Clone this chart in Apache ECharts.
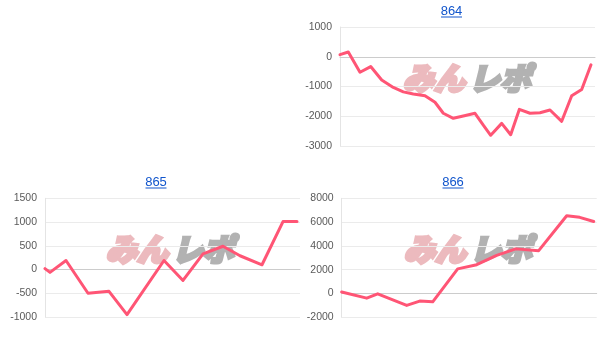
<!DOCTYPE html>
<html><head><meta charset="utf-8">
<script src="https://cdn.jsdelivr.net/npm/echarts@6/dist/echarts.min.js"></script>
<style>html,body{margin:0;padding:0;background:#fff}#c{width:604px;height:341px}</style>
</head><body><div id="c"></div>
<script>
const titles = ['864','865','866'];

const x864 = [0,0.83,2,3.07,4.17,5.33,6.33,7.33,8.5,9.5,10.33,11.33,12.33,13.5,14.33,15.07,16.17,17.07,17.93,19,20,21,22.17,23.17,24.17,25.1];
const v864 = [70,160,-520,-330,-780,-1030,-1180,-1250,-1310,-1530,-1900,-2070,-1990,-1900,-2300,-2640,-2240,-2620,-1770,-1900,-1880,-1790,-2170,-1310,-1100,-270];

const x865 = [0,0.5,2.1,4.3,6.4,8.2,11.9,13.8,15.8,17.8,19.5,21.7,23.8,25.2];
const v865 = [20,-60,190,-500,-460,-950,190,-230,330,490,290,100,1010,1010];

const x866 = [0,2.5,3.6,6.5,7.8,9.1,11.6,13.5,15.5,17.4,19.7,22.5,23.8,25.2];
const v866 = [130,-390,-30,-1000,-640,-700,2070,2420,3200,3750,3600,6530,6400,6050];

const yTicks = [
  {min:-3000, max:1000, interval:1000},
  {min:-1000, max:1500, interval:500},
  {min:-2000, max:8000, interval:2000}
];

const LINE = '#ff5575';
const pair = (xs, vs) => xs.map((x, i) => [x, vs[i]]);
const seriesData = [pair(x864, v864), pair(x865, v865), pair(x866, v866)];

const grids = [
  {left:340, right:9, top:27, height:119},
  {left:45, right:304, top:198.3, height:118.7},
  {left:341.7, right:7.3, top:198.3, height:119}
];
const titlePos = [{cx:451.5, top:5}, {cx:156, top:176}, {cx:453, top:176}];
const wm = [{cx:465, cy:78}, {cx:168, cy:249}, {cx:466, cy:249}];

const chart = echarts.init(document.getElementById('c'), null, {renderer:'canvas'});

const graphic = [];
titlePos.forEach((t) => {
  graphic.push({type:'rect', shape:{x:t.cx-10.5, y:t.top+11.5, width:21, height:1}, style:{fill:'#1155cc'}, silent:true});
});
const PINK = 'rgb(236,186,190)', GRAY = 'rgb(178,178,178)';
wm.forEach((w) => {
  graphic.push({type:'text', x:w.cx, y:w.cy, z:0, style:{text:'みん', align:'right', verticalAlign:'middle',
    fontStyle:'italic', fontWeight:900, fontSize:31, fontFamily:'Noto Sans CJK JP',
    fill:PINK, stroke:PINK, lineWidth:3.5, lineJoin:'round'}, silent:true});
  graphic.push({type:'text', x:w.cx+4, y:w.cy, z:0, style:{text:'レポ', align:'left', verticalAlign:'middle',
    fontStyle:'italic', fontWeight:900, fontSize:31, fontFamily:'Noto Sans CJK JP',
    fill:GRAY, stroke:GRAY, lineWidth:3, lineJoin:'round'}, silent:true});
});

const option = {
  animation:false,
  backgroundColor:'#fff',
  title: titles.map((t, i) => ({
    text:t, left:titlePos[i].cx, top:titlePos[i].top, textAlign:'center', padding:0,
    textStyle:{fontFamily:'Liberation Sans, Arial', fontSize:13, fontWeight:'normal', color:'#1155cc'}
  })),
  grid: grids,
  xAxis: grids.map((g, i) => ({
    type:'value', gridIndex:i, min:0, max:25.5,
    axisLine:{show:true, onZero:true, lineStyle:{color:'#cccccc', width:1}},
    axisTick:{show:false}, axisLabel:{show:false}, splitLine:{show:false}
  })),
  yAxis: grids.map((g, i) => ({
    type:'value', gridIndex:i, min:yTicks[i].min, max:yTicks[i].max, interval:yTicks[i].interval,
    axisLine:{show:true, lineStyle:{color:'#e4e4e4'}},
    axisTick:{show:false},
    axisLabel:{color:'#5a5a5a', fontFamily:'Liberation Sans, Arial', fontSize:10.5, margin:8,
      formatter:(v) => String(v)},
    splitLine:{show:true, lineStyle:{color:'#ebebeb', width:1}}
  })),
  graphic: graphic,
  series: seriesData.map((d, i) => ({
    type:'line', xAxisIndex:i, yAxisIndex:i, data:d, symbol:'none', z:5,
    lineStyle:{color:LINE, width:3, join:'round', cap:'round'}
  }))
};
chart.setOption(option);
</script></body></html>
